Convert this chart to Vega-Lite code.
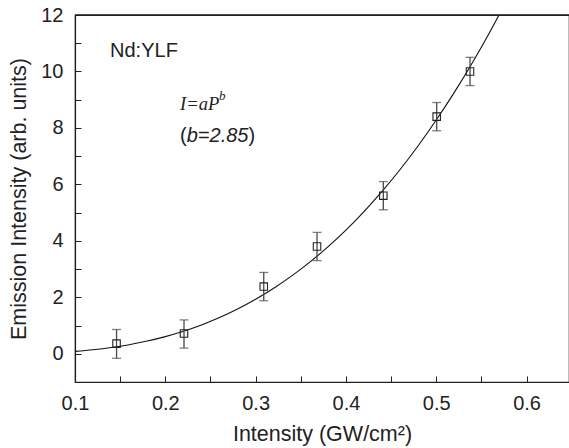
{
  "$schema": "https://vega.github.io/schema/vega-lite/v6.json",
  "width": 494,
  "height": 367,
  "autosize": {"type": "none"},
  "padding": {"left": 75, "top": 15, "right": 0, "bottom": 66},
  "background": "white",
  "config": {
    "view": {"stroke": "#222", "strokeWidth": 1.2},
    "font": "Liberation Sans",
    "axis": {
      "grid": false,
      "domainColor": "#222",
      "tickColor": "#222",
      "labelColor": "#222",
      "titleColor": "#222",
      "labelFont": "Liberation Sans",
      "titleFont": "Liberation Sans",
      "labelFontSize": 20,
      "titleFontSize": 21.5,
      "titleFontWeight": "normal",
      "tickSize": -6,
      "domainWidth": 1.2,
      "tickWidth": 1
    }
  },
  "datasets": {
    "points": [
      {"P": 0.146, "I": 0.36, "lo": -0.16, "hi": 0.86},
      {"P": 0.2207, "I": 0.72, "lo": 0.2, "hi": 1.2},
      {"P": 0.309, "I": 2.38, "lo": 1.88, "hi": 2.88},
      {"P": 0.368, "I": 3.8, "lo": 3.3, "hi": 4.3},
      {"P": 0.4414, "I": 5.6, "lo": 5.1, "hi": 6.1},
      {"P": 0.5005, "I": 8.4, "lo": 7.9, "hi": 8.9},
      {"P": 0.5374, "I": 10.0, "lo": 9.5, "hi": 10.5}
    ],
    "fit": [
      {"P": 0.10, "I": 0.084},
      {"P": 0.12, "I": 0.142},
      {"P": 0.14, "I": 0.220},
      {"P": 0.16, "I": 0.322},
      {"P": 0.18, "I": 0.450},
      {"P": 0.20, "I": 0.608},
      {"P": 0.22, "I": 0.798},
      {"P": 0.24, "I": 1.022},
      {"P": 0.26, "I": 1.284},
      {"P": 0.28, "I": 1.587},
      {"P": 0.30, "I": 1.931},
      {"P": 0.32, "I": 2.322},
      {"P": 0.34, "I": 2.760},
      {"P": 0.36, "I": 3.247},
      {"P": 0.38, "I": 3.788},
      {"P": 0.40, "I": 4.383},
      {"P": 0.42, "I": 5.038},
      {"P": 0.44, "I": 5.752},
      {"P": 0.46, "I": 6.528},
      {"P": 0.48, "I": 7.370},
      {"P": 0.50, "I": 8.279},
      {"P": 0.52, "I": 9.259},
      {"P": 0.54, "I": 10.311},
      {"P": 0.56, "I": 11.437},
      {"P": 0.5695, "I": 12.0}
    ],
    "frame": [
      {"P": 0.1, "I": 12},
      {"P": 0.647, "I": 12}
    ]
  },
  "encoding": {
    "x": {
      "field": "P", "type": "quantitative",
      "scale": {"domain": [0.1, 0.647], "nice": false, "zero": false},
      "axis": {
        "title": "Intensity (GW/cm²)",
        "values": [0.1, 0.15, 0.2, 0.25, 0.3, 0.35, 0.4, 0.45, 0.5, 0.55, 0.6],
        "format": ".1f",
        "labelExpr": "round(datum.value*100) % 10 == 0 ? datum.label : ''",
        "labelPadding": 17,
        "titlePadding": 10,
        "labelFlush": false
      }
    },
    "y": {
      "field": "I", "type": "quantitative",
      "scale": {"domain": [-1, 12], "nice": false, "zero": false},
      "axis": {
        "title": "Emission Intensity (arb. units)",
        "values": [-1, 0, 1, 2, 3, 4, 5, 6, 7, 8, 9, 10, 11, 12],
        "labelExpr": "datum.value % 2 == 0 ? datum.label : ''",
        "labelPadding": 18,
        "titlePadding": 10,
        "labelFlush": false
      }
    }
  },
  "layer": [
    {
      "data": {"name": "frame"},
      "mark": {"type": "line", "color": "#222", "strokeWidth": 1.3, "clip": false}
    },
    {
      "data": {"name": "fit"},
      "mark": {"type": "line", "color": "#111", "strokeWidth": 1.1, "clip": true, "interpolate": "monotone"}
    },
    {
      "data": {"name": "points"},
      "mark": {"type": "rule", "color": "#4a4a4a", "strokeWidth": 1.3},
      "encoding": {
        "y": {"field": "lo", "type": "quantitative"},
        "y2": {"field": "hi"}
      }
    },
    {
      "data": {"name": "points"},
      "mark": {"type": "tick", "orient": "horizontal", "color": "#4a4a4a", "size": 9, "thickness": 1.3},
      "encoding": {
        "y": {"field": "lo", "type": "quantitative"}
      }
    },
    {
      "data": {"name": "points"},
      "mark": {"type": "tick", "orient": "horizontal", "color": "#4a4a4a", "size": 9, "thickness": 1.3},
      "encoding": {
        "y": {"field": "hi", "type": "quantitative"}
      }
    },
    {
      "data": {"name": "points"},
      "mark": {"type": "point", "shape": "square", "size": 56, "filled": false, "color": "#222", "strokeWidth": 1.1, "opacity": 1}
    },
    {
      "data": {"values": [{"P": 0.1388, "I": 10.5}]},
      "mark": {"type": "text", "text": "Nd:YLF", "font": "Liberation Sans", "fontSize": 20, "align": "left", "baseline": "alphabetic", "color": "#222"}
    },
    {
      "data": {"values": [{"P": 0.2163, "I": 8.64}]},
      "mark": {"type": "text", "text": "I=aP", "font": "Liberation Serif", "fontStyle": "italic", "fontSize": 18.5, "align": "left", "baseline": "alphabetic", "color": "#222"}
    },
    {
      "data": {"values": [{"P": 0.2594, "I": 9.0}]},
      "mark": {"type": "text", "text": "b", "font": "Liberation Serif", "fontStyle": "italic", "fontSize": 13, "align": "left", "baseline": "alphabetic", "color": "#222"}
    },
    {
      "data": {"values": [{"P": 0.2163, "I": 7.51}]},
      "mark": {"type": "text", "text": "(", "font": "Liberation Sans", "fontSize": 20, "align": "left", "baseline": "alphabetic", "color": "#222"}
    },
    {
      "data": {"values": [{"P": 0.2237, "I": 7.51}]},
      "mark": {"type": "text", "text": "b=2.85", "font": "Liberation Sans", "fontStyle": "italic", "fontSize": 20, "align": "left", "baseline": "alphabetic", "color": "#222"}
    },
    {
      "data": {"values": [{"P": 0.2921, "I": 7.51}]},
      "mark": {"type": "text", "text": ")", "font": "Liberation Sans", "fontSize": 20, "align": "left", "baseline": "alphabetic", "color": "#222"}
    }
  ]
}
